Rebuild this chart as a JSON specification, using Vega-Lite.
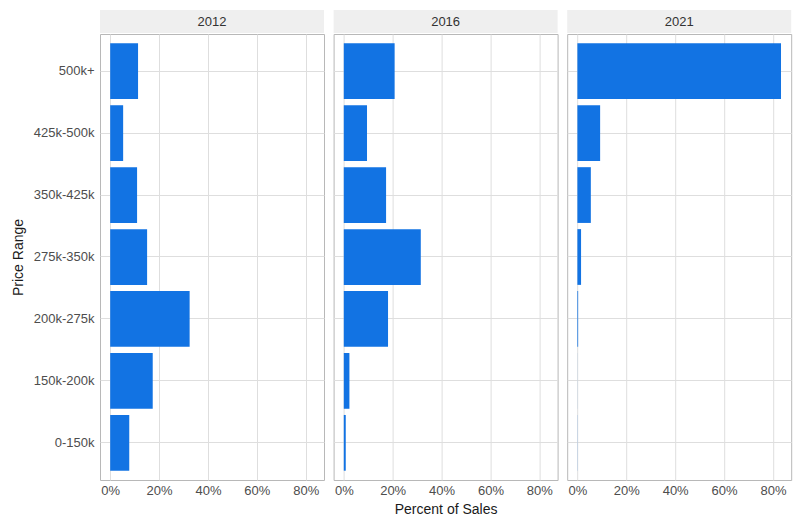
{
  "$schema": "https://vega.github.io/schema/vega-lite/v6.json",
  "background": "white",
  "padding": {"left": 10, "top": 10, "right": 5, "bottom": 0},
  "spacing": 7.6,
  "datasets": {
    "sales": [
      {"year": "2012", "range": "500k+", "pct": 0.114},
      {"year": "2012", "range": "425k-500k", "pct": 0.053},
      {"year": "2012", "range": "350k-425k", "pct": 0.110},
      {"year": "2012", "range": "275k-350k", "pct": 0.151},
      {"year": "2012", "range": "200k-275k", "pct": 0.325},
      {"year": "2012", "range": "150k-200k", "pct": 0.174},
      {"year": "2012", "range": "0-150k", "pct": 0.078},
      {"year": "2016", "range": "500k+", "pct": 0.208},
      {"year": "2016", "range": "425k-500k", "pct": 0.095},
      {"year": "2016", "range": "350k-425k", "pct": 0.173},
      {"year": "2016", "range": "275k-350k", "pct": 0.315},
      {"year": "2016", "range": "200k-275k", "pct": 0.181},
      {"year": "2016", "range": "150k-200k", "pct": 0.023},
      {"year": "2016", "range": "0-150k", "pct": 0.008},
      {"year": "2021", "range": "500k+", "pct": 0.833},
      {"year": "2021", "range": "425k-500k", "pct": 0.093},
      {"year": "2021", "range": "350k-425k", "pct": 0.055},
      {"year": "2021", "range": "275k-350k", "pct": 0.015},
      {"year": "2021", "range": "200k-275k", "pct": 0.003},
      {"year": "2021", "range": "150k-200k", "pct": 0.0002},
      {"year": "2021", "range": "0-150k", "pct": 0.0005}
    ],
    "years": [{"year": "2012"}, {"year": "2016"}, {"year": "2021"}]
  },
  "config": {
    "font": "Liberation Sans",
    "view": {"stroke": "#B8B8B8", "strokeWidth": 1},
    "axis": {
      "labelFont": "Liberation Sans",
      "titleFont": "Liberation Sans",
      "labelFontSize": 13,
      "labelColor": "#4D4D4D",
      "titleFontSize": 14,
      "titleFontWeight": "normal",
      "titleColor": "#1A1A1A",
      "gridColor": "#DEDEDE",
      "gridWidth": 1,
      "ticks": false,
      "domain": false
    }
  },
  "hconcat": [
    {
      "spacing": 0,
      "vconcat": [
        {
          "width": 224, "height": 23,
          "data": {"name": "years"},
          "transform": [{"filter": "datum.year == '2012'"}],
          "view": {"fill": "#EFEFEF", "stroke": null},
          "mark": {"type": "text", "fontSize": 13, "color": "#333333", "baseline": "middle", "font": "Liberation Sans"},
          "encoding": {"text": {"field": "year"}}
        },
        {
          "width": 224, "height": 446,
          "data": {"name": "sales"},
          "transform": [{"filter": "datum.year == '2012'"}],
          "mark": {"type": "bar", "color": "#1273E3"},
          "encoding": {
            "y": {"field": "range", "type": "nominal",
              "sort": ["500k+", "425k-500k", "350k-425k", "275k-350k", "200k-275k", "150k-200k", "0-150k"],
              "scale": {"paddingInner": 0.1, "paddingOuter": 0.15},
              "axis": {"title": "Price Range", "grid": true, "labelPadding": 6, "titlePadding": 8}},
            "x": {"field": "pct", "type": "quantitative",
              "scale": {"domain": [-0.0417, 0.8747], "nice": false, "zero": false},
              "axis": {"title": null, "values": [0, 0.2, 0.4, 0.6, 0.8], "format": ".0%", "labelPadding": 4, "grid": true}},
            "x2": {"datum": 0}
          }
        }
      ]
    },
    {
      "spacing": 0,
      "vconcat": [
        {
          "width": 224, "height": 23,
          "data": {"name": "years"},
          "transform": [{"filter": "datum.year == '2016'"}],
          "view": {"fill": "#EFEFEF", "stroke": null},
          "mark": {"type": "text", "fontSize": 13, "color": "#333333", "baseline": "middle", "font": "Liberation Sans"},
          "encoding": {"text": {"field": "year"}}
        },
        {
          "width": 224, "height": 446,
          "data": {"name": "sales"},
          "transform": [{"filter": "datum.year == '2016'"}],
          "mark": {"type": "bar", "color": "#1273E3"},
          "encoding": {
            "y": {"field": "range", "type": "nominal",
              "sort": ["500k+", "425k-500k", "350k-425k", "275k-350k", "200k-275k", "150k-200k", "0-150k"],
              "scale": {"paddingInner": 0.1, "paddingOuter": 0.15},
              "axis": {"title": null, "labels": false, "grid": true, "labelPadding": 0, "minExtent": 0, "maxExtent": 0}},
            "x": {"field": "pct", "type": "quantitative",
              "scale": {"domain": [-0.0417, 0.8747], "nice": false, "zero": false},
              "axis": {"title": "Percent of Sales", "values": [0, 0.2, 0.4, 0.6, 0.8], "format": ".0%", "labelPadding": 4, "titlePadding": 5, "grid": true}},
            "x2": {"datum": 0}
          }
        }
      ]
    },
    {
      "spacing": 0,
      "vconcat": [
        {
          "width": 224, "height": 23,
          "data": {"name": "years"},
          "transform": [{"filter": "datum.year == '2021'"}],
          "view": {"fill": "#EFEFEF", "stroke": null},
          "mark": {"type": "text", "fontSize": 13, "color": "#333333", "baseline": "middle", "font": "Liberation Sans"},
          "encoding": {"text": {"field": "year"}}
        },
        {
          "width": 224, "height": 446,
          "data": {"name": "sales"},
          "transform": [{"filter": "datum.year == '2021'"}],
          "mark": {"type": "bar", "color": "#1273E3"},
          "encoding": {
            "y": {"field": "range", "type": "nominal",
              "sort": ["500k+", "425k-500k", "350k-425k", "275k-350k", "200k-275k", "150k-200k", "0-150k"],
              "scale": {"paddingInner": 0.1, "paddingOuter": 0.15},
              "axis": {"title": null, "labels": false, "grid": true, "labelPadding": 0, "minExtent": 0, "maxExtent": 0}},
            "x": {"field": "pct", "type": "quantitative",
              "scale": {"domain": [-0.0417, 0.8747], "nice": false, "zero": false},
              "axis": {"title": null, "values": [0, 0.2, 0.4, 0.6, 0.8], "format": ".0%", "labelPadding": 4, "grid": true}},
            "x2": {"datum": 0}
          }
        }
      ]
    }
  ]
}
